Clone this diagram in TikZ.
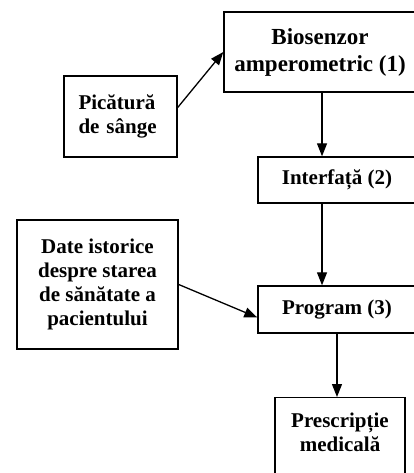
\documentclass[tikz,border=0pt]{standalone}
\usepackage{fontspec}
\setmainfont{Liberation Serif}
\usetikzlibrary{arrows.meta,positioning}
\tikzset{
  bloc/.style={draw,line width=1.4pt,align=center,inner sep=0pt},
  sag/.style={line width=1.3pt,-{Triangle[length=13pt,width=10pt]}},
}

\begin{document}
\begin{tikzpicture}[x=1pt,y=-1pt,font=\fontsize{21}{24}\selectfont\bfseries]
  \useasboundingbox (0,0) rectangle (414,473);
  \clip (0,0) rectangle (414,473);
  \node[bloc,minimum width=192pt,minimum height=80pt,font=\fontsize{23}{27}\selectfont\bfseries] (bio) at (320,52) {Biosenzor\\amperometric (1)};
  \node[bloc,minimum width=158pt,minimum height=46pt] (interf) at (337,180) {Interfață (2)};
  \node[bloc,minimum width=158pt,minimum height=47pt] (prog) at (337,309.5) {Program (3)};
  \node[bloc,minimum width=130pt,minimum height=100pt,anchor=north,
    label={[align=center,anchor=north,yshift=-12pt]north:Prescripție\\medicală}] (presc) at (340,397) {};
  \node[bloc,minimum width=113pt,minimum height=81pt,text width=84pt,align=left] (pic) at (120.5,116.5) {Picătură\\de sânge};
  \node[bloc,minimum width=161pt,minimum height=129pt] (date) at (97.5,284.5) {Date istorice\\despre starea\\de sănătate a\\pacientului};
  \draw[sag] ([yshift=9pt]pic.east) -- (bio.west);
  \draw[sag] ([xshift=2pt]bio.south) -- ([xshift=2pt]bio.south |- interf.north);
  \draw[sag] ([xshift=-15pt]interf.south) -- ([xshift=-15pt]interf.south |- prog.north);
  \draw[sag] (date.east) -- ([yshift=-8pt]prog.west);
  \draw[sag] (prog.south) -- (prog.south |- presc.north);
\end{tikzpicture}
\end{document}
